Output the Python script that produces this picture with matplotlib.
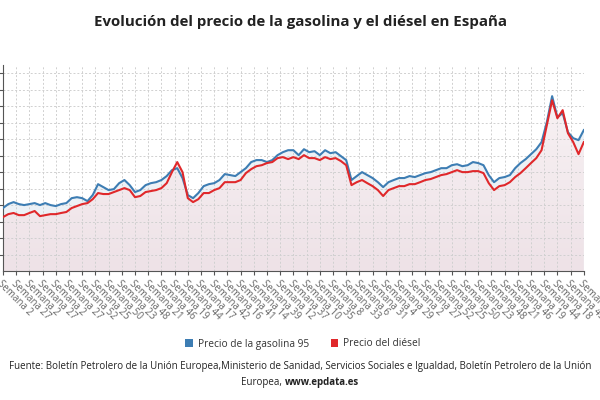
import numpy as np
import matplotlib
matplotlib.use('Agg')
import matplotlib.pyplot as plt
from matplotlib.patches import Patch
from matplotlib.colors import LinearSegmentedColormap

plt.rcParams['font.family'] = ['Open Sans', 'DejaVu Sans']

# weekly price readings (one sample every 10 weeks), arbitrary euro scale
gasolina = [0.382, 0.406, 0.418, 0.406, 0.400, 0.406, 0.412, 0.400, 0.412, 0.400,
            0.394, 0.406, 0.412, 0.442, 0.448, 0.442, 0.424, 0.461, 0.527, 0.509,
            0.491, 0.497, 0.533, 0.552, 0.521, 0.479, 0.491, 0.521, 0.533, 0.539,
            0.552, 0.576, 0.612, 0.624, 0.564, 0.461, 0.442, 0.473, 0.515, 0.527,
            0.533, 0.552, 0.588, 0.582, 0.576, 0.600, 0.624, 0.661, 0.673, 0.673,
            0.661, 0.673, 0.703, 0.721, 0.733, 0.733, 0.703, 0.739, 0.721, 0.727,
            0.703, 0.733, 0.715, 0.721, 0.697, 0.673, 0.552, 0.576, 0.600, 0.582,
            0.564, 0.539, 0.509, 0.539, 0.552, 0.564, 0.564, 0.576, 0.570, 0.582,
            0.594, 0.600, 0.612, 0.624, 0.624, 0.642, 0.648, 0.636, 0.642, 0.661,
            0.655, 0.642, 0.582, 0.539, 0.564, 0.570, 0.582, 0.624, 0.655, 0.679,
            0.709, 0.739, 0.782, 0.903, 1.061, 0.933, 0.958, 0.842, 0.806, 0.794,
            0.855]
diesel = [0.327, 0.345, 0.352, 0.339, 0.339, 0.352, 0.364, 0.333, 0.339, 0.345,
          0.345, 0.352, 0.358, 0.382, 0.394, 0.406, 0.412, 0.436, 0.473, 0.467,
          0.467, 0.479, 0.491, 0.503, 0.491, 0.448, 0.455, 0.479, 0.485, 0.491,
          0.503, 0.533, 0.600, 0.661, 0.600, 0.442, 0.418, 0.436, 0.473, 0.473,
          0.491, 0.503, 0.539, 0.539, 0.539, 0.552, 0.594, 0.618, 0.636, 0.642,
          0.655, 0.661, 0.685, 0.691, 0.679, 0.691, 0.679, 0.703, 0.685, 0.685,
          0.673, 0.691, 0.679, 0.685, 0.667, 0.642, 0.521, 0.539, 0.552, 0.533,
          0.515, 0.491, 0.455, 0.491, 0.503, 0.515, 0.515, 0.527, 0.527, 0.539,
          0.552, 0.558, 0.570, 0.582, 0.588, 0.600, 0.612, 0.600, 0.600, 0.606,
          0.606, 0.594, 0.533, 0.491, 0.515, 0.521, 0.539, 0.570, 0.594, 0.624,
          0.655, 0.685, 0.733, 0.885, 1.036, 0.927, 0.976, 0.836, 0.782, 0.709,
          0.782]

semanas = ['2', '27', '2', '27', '2', '27', '52', '25', '50', '23', '48', '21',
           '46', '19', '44', '17', '42', '16', '41', '14', '39', '12', '37', '10',
           '35', '8', '33', '6', '31', '4', '29', '2', '27', '52', '25', '50',
           '23', '48', '21', '46', '19', '44', '18', '43', '16']
tick_labels = ['Semana ' + s for s in semanas]

series_names = ['Precio de la gasolina 95', 'Precio del diésel']
col_gas = '#3d7db3'
col_die = '#e0282b'

step = 10          # weeks per sample
tick_step = 25     # weeks between labels
x = np.arange(len(gasolina)) * step
xmax = (len(tick_labels) - 1) * tick_step

fig = plt.figure(figsize=(6, 4), dpi=100)
ax = fig.add_axes([0.005, 0.3225, 0.968, 0.515])

ymax = 1.25
# gasoline band (light blue) and diesel area (pink gradient)
pg = ax.fill_between(x, 0, gasolina, facecolor='#ecf1f6', edgecolor='none', zorder=0.2)
pd_ = ax.fill_between(x, 0, diesel, facecolor='none', edgecolor='none', zorder=0.3)
grad = np.linspace(0, 1, 256).reshape(-1, 1)
cmap = LinearSegmentedColormap.from_list('f', ['#eee2e7', '#f8f2f4'])
im = ax.imshow(grad, aspect='auto', extent=[0, xmax, 0, 1.1], origin='lower',
               cmap=cmap, zorder=0.3)
im.set_clip_path(pd_.get_paths()[0], transform=ax.transData)

ax.plot(x, gasolina, color=col_gas, lw=1.5, zorder=3, solid_joinstyle='round')
ax.plot(x, diesel, color=col_die, lw=1.5, zorder=3, solid_joinstyle='round')

ax.set_xlim(0, xmax)
ax.set_ylim(0, ymax)
ax.set_yticks(np.arange(0.1, 1.25, 0.1))
ax.set_yticklabels([])
ax.set_xticks(np.arange(0, xmax + 1, tick_step))
ax.set_xticklabels(tick_labels, rotation=-45, ha='left', va='top',
                   rotation_mode='anchor', fontsize=7.0, color='#666666')

ax.set_axisbelow(True)
ax.grid(True, color='#d0d0d0', lw=0.7, linestyle=(0, (2, 2)))
for s in ['top', 'right']:
    ax.spines[s].set_visible(False)
ax.spines['left'].set_color('#555555')
ax.spines['bottom'].set_color('#555555')
ax.tick_params(axis='y', length=3, color='#555555')
ax.tick_params(axis='x', length=3, color='#555555', pad=2)

fig.text(0.5, 0.945, 'Evolución del precio de la gasolina y el diésel en España',
         ha='center', va='center', fontsize=10.8, fontweight='bold', color='#222222')

handles = [Patch(facecolor=col_gas, edgecolor='none'),
           Patch(facecolor=col_die, edgecolor='none')]
fig.legend(handles, series_names, loc='center', bbox_to_anchor=(0.505, 0.14),
           ncol=2, frameon=False, fontsize=7.3, handlelength=0.7, handleheight=0.7,
           handletextpad=0.5, columnspacing=2.2, labelcolor='#333333')

fig.text(0.5, 0.085, 'Fuente: Boletín Petrolero de la Unión Europea,Ministerio de Sanidad, '
         'Servicios Sociales e Igualdad, Boletín Petrolero de la Unión',
         ha='center', va='center', fontsize=7.05, color='#222222')

# second line: plain + bold part, centred together
fig.canvas.draw()
r = fig.canvas.get_renderer()
t1 = fig.text(0, 0.043, 'Europea, ', ha='left', va='center', fontsize=7.05, color='#222222')
t2 = fig.text(0, 0.043, 'www.epdata.es', ha='left', va='center', fontsize=7.05,
              fontweight='bold', color='#222222')
w1 = t1.get_window_extent(r).width / fig.bbox.width
w2 = t2.get_window_extent(r).width / fig.bbox.width
start = 0.5 - (w1 + w2) / 2
t1.set_x(start)
t2.set_x(start + w1)

fig.savefig('out.png', dpi=100)
